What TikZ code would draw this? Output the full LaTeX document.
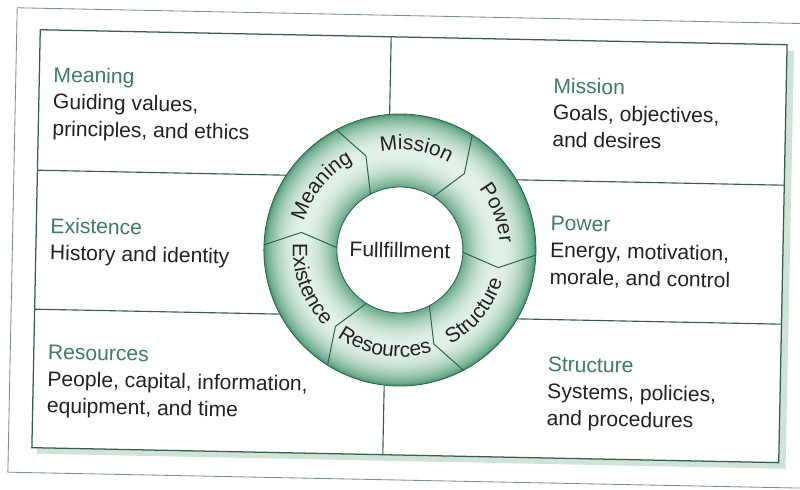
\documentclass[tikz,border=0pt]{standalone}
\usepackage{fontspec}
\setmainfont{Liberation Sans}
\usetikzlibrary{decorations.text}

\definecolor{framegreen}{RGB}{55,95,78}
\definecolor{outergray}{RGB}{125,145,135}
\definecolor{shadowgreen}{RGB}{208,227,215}
\definecolor{headgreen}{RGB}{62,125,95}
\definecolor{bodygray}{RGB}{35,35,35}
\definecolor{ringdark}{RGB}{80,155,118}
\definecolor{ringlight}{RGB}{228,242,233}
\definecolor{ringline}{RGB}{45,100,72}

\newcommand{\boxfont}{\fontsize{15}{19.1}\selectfont}
\newcommand{\ringfont}{\fontsize{14.8}{17}\selectfont}
\newcommand{\heading}[1]{{\color{headgreen}#1}}

% Curved labels: upper ones run clockwise, lower ones counterclockwise
\newcommand{\toplabel}[2]{%
  \path[decorate, decoration={text along path, text align=center,
    text color=bodygray, text={|\ringfont|#2}}]
    (#1+45:100) arc[start angle=#1+45, end angle=#1-45, radius=100];}
\newcommand{\bottomlabel}[2]{%
  \path[decorate, decoration={text along path, text align=center,
    text color=bodygray, text={|\ringfont|#2}}]
    (#1-45:107) arc[start angle=#1-45, end angle=#1+45, radius=107];}

\tikzset{
  boxtext/.style={anchor=north west, align=left, inner sep=0pt, font=\boxfont, text=bodygray},
  gridline/.style={draw=framegreen, line width=0.8pt},
  divider/.style={draw=ringline, line width=0.7pt},
}

\begin{document}
\begin{tikzpicture}[x=0.025cm, y=0.025cm]
	\useasboundingbox (0,0) rectangle (800,489);
	
	\begin{scope}[rotate around={-1.15:(400,244)}, transform shape]
		% Outer frame of the page
		\draw[outergray, line width=0.6pt] (12.5,9) rectangle (830,473.5);
		
		% Shadow and main frame
		\fill[shadowgreen] (41,28) rectangle (790,446);
		\draw[gridline, fill=white, line width=0.9pt] (36,34) rectangle (783,452);
		
		% Six fields
		\draw[gridline] (36,311.5) -- (783,311.5);
		\draw[gridline] (36,172.5) -- (783,172.5);
		\draw[gridline] (387,34) -- (387,452);
		
		% Texts of the fields
		\node[boxtext] (meaning) at (50,415.5) {\heading{Meaning}\\Guiding values,\\principles, and ethics};
		\node[boxtext] (existence) at (50,264.5) {\heading{Existence}\\History and identity};
		\node[boxtext] (resources) at (50,137.5) {\heading{Resources}\\People, capital, information,\\equipment, and time};
		\node[boxtext] (mission) at (550,414.5) {\heading{Mission}\\Goals, objectives,\\and desires};
		\node[boxtext] (power) at (550,276.5) {\heading{Power}\\Energy, motivation,\\morale, and control};
		\node[boxtext] (structure) at (550,135.5) {\heading{Structure}\\Systems, policies,\\and procedures};
		
		\begin{scope}[shift={(400,239)}]
			% The ring, darker at both edges and pale in the middle
			\foreach \r in {136,134,...,64} {
				\pgfmathtruncatemacro{\p}{100*abs(sin(180*(\r-63)/73))^0.7}
				\fill[ringlight!\p!ringdark] (0,0) circle (\r);
			}
			\fill[white] (0,0) circle (63);
			\draw[ringline, line width=0.6pt] (0,0) circle (136) (0,0) circle (63);
			
			% Pointed borders between the segments
			\foreach \a in {-1,59,...,299}
				\draw[divider] (\a:136) -- (\a-8:100) -- (\a:63);
			
			% Segment labels
			\toplabel{142}{Meaning}
			\toplabel{82}{Mission}
			\toplabel{22}{Power}
			\bottomlabel{-38}{Structure}
			\bottomlabel{-98}{Resources}
			\bottomlabel{-158}{Existence}
			
			\node[font=\boxfont, text=bodygray] (fulfillment) at (0,0) {Fullfillment};
		\end{scope}
	\end{scope}
\end{tikzpicture}
\end{document}
